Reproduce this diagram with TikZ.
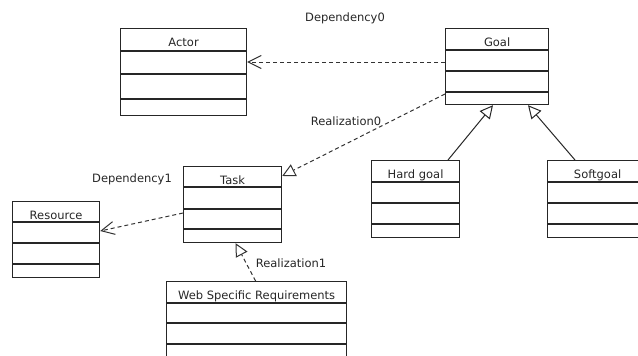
\documentclass[tikz,border=0pt]{standalone}
\usepackage{fontspec}
\setmainfont{DejaVu Sans}
\usetikzlibrary{arrows.meta}

\begin{document}
\begin{tikzpicture}[x=1pt,y=-1pt,font=\fontsize{11.5}{13}\selectfont,
        classbox/.style={draw=black!85,line width=1.2pt,inner sep=0pt,anchor=north west},
        classline/.style={draw=black!85,line width=1.2pt},
        classname/.style={anchor=base,inner sep=0pt,text=black!85},
        tag/.style={text=black!85,inner sep=0pt},
        depend/.style={draw=black!80,line width=1pt,dash pattern=on 4pt off 3pt,-{Straight Barb[length=13pt,width=13pt,line width=1pt]}},
        realize/.style={draw=black!80,line width=1pt,dash pattern=on 4pt off 3pt,-{Triangle[open,length=13pt,width=13pt,line width=1pt]}},
        general/.style={draw=black!85,line width=1pt,-{Triangle[open,length=13pt,width=13pt,line width=1pt]}}]
        \useasboundingbox (0,0) rectangle (638,356);
        \clip (0,0) rectangle (638,356);
        % classes: name/left/top/width/height/dividers/title
        \foreach \nm/\x/\y/\w/\h/\da/\db/\dc/\title in {
            actor/120/28/126/87/23/46/71/Actor,
            goal/445/28/103/76/22/43/64/Goal,
            task/183/166/98/76/21/43/63/Task,
            resource/12/201/87/76/21/42/63/Resource,
            hardgoal/371/160/88/77/22/43/64/Hard goal,
            softgoal/547/160/100/77/22/43/64/Softgoal,
            webreq/166/281/180/80/22/42/63/Web Specific Requirements}{
            \node[classbox,minimum width=\w pt,minimum height=\h pt] (\nm) at (\x,\y) {};
            \node[classname] (\nm-name) at ([yshift=-18pt]\nm.north) {\title};
            \foreach \d in {\da,\db,\dc}
                \draw[classline] ([yshift=-\d pt]\nm.north west) -- ([yshift=-\d pt]\nm.north east);
        }
        \draw[depend] ([yshift=-34pt]goal.north west) -- ([yshift=-34pt]actor.north east);
        \draw[realize] ([yshift=-66pt]goal.north west) -- ([yshift=-10pt]task.north east);
        \draw[depend] ([yshift=-47pt]task.north west) -- ([yshift=-30pt]resource.north east);
        \draw[realize] ([xshift=-1pt]webreq.north) -- ([xshift=3pt]task.south);
        \draw[general] ([xshift=77pt]hardgoal.north west) -- ([xshift=48pt]goal.south west);
        \draw[general] ([xshift=28pt]softgoal.north west) -- ([xshift=83pt]goal.south west);
        \node[tag] (dep0) at (345,18) {Dependency0};
        \node[tag] (real0) at (346,121) {Realization0};
        \node[tag] (dep1) at (132,179) {Dependency1};
        \node[tag] (real1) at (291,263) {Realization1};
\end{tikzpicture}
\end{document}
